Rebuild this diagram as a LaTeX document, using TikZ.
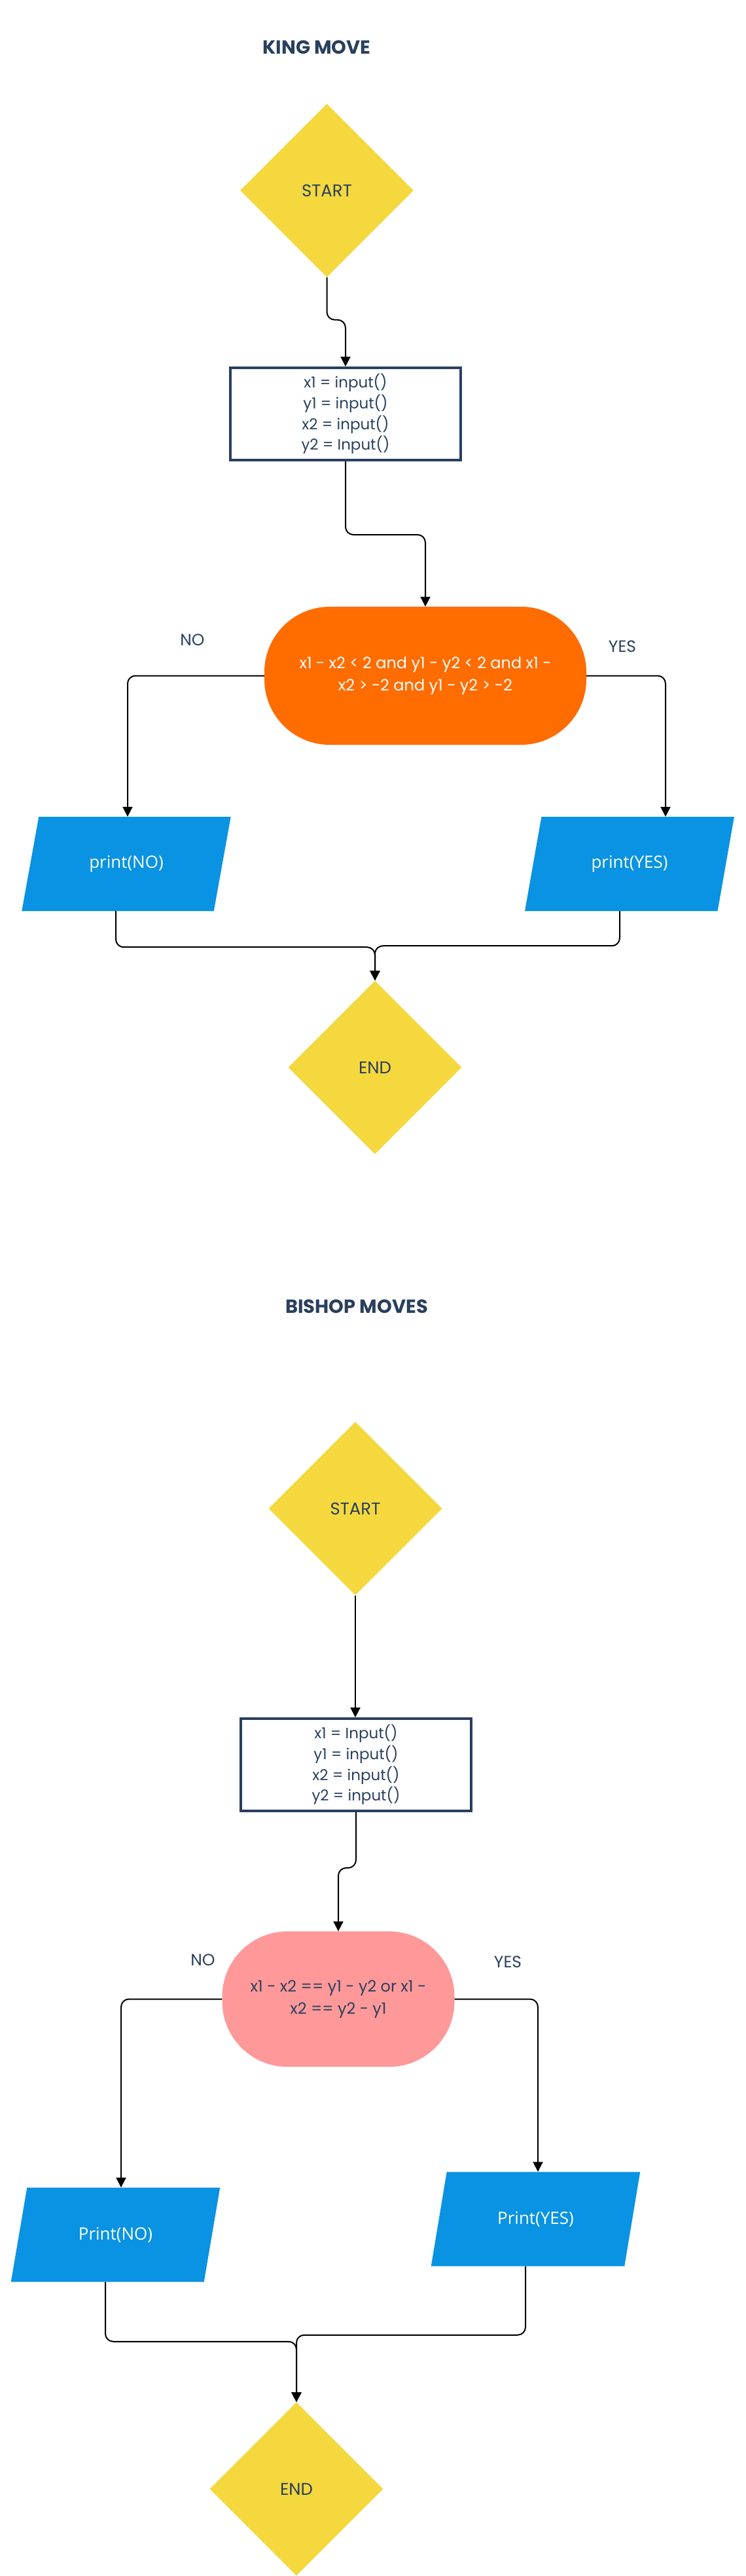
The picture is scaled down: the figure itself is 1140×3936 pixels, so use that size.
\documentclass[tikz,border=0pt]{standalone}
\usepackage{fontspec}
\setmainfont{Poppins}
\newfontfamily\printfont{Open Sans}
\usetikzlibrary{shapes.geometric}
\usetikzlibrary{arrows.meta}

\definecolor{navy}{HTML}{29405E}
\definecolor{sunyellow}{HTML}{F4D83E}
\definecolor{condorange}{HTML}{FF6C00}
\definecolor{condpink}{HTML}{FF9999}
\definecolor{printblue}{HTML}{0993E2}

\begin{document}
\begin{tikzpicture}[x=1pt,y=-1pt,
  title/.style={text=navy,font=\fontsize{29}{34}\selectfont\bfseries},
  terminal/.style={diamond,aspect=1,fill=sunyellow,inner sep=0pt,minimum width=265pt,minimum height=265pt,text=navy,font=\fontsize{26}{31}\selectfont},
  inputbox/.style={rectangle,draw=navy,line width=4pt,minimum width=352pt,minimum height=141pt,align=center,text=navy,font=\fontsize{23}{31.7}\selectfont},
  decision/.style={rectangle,rounded corners=100pt,align=center,font=\fontsize{24}{33.5}\selectfont},
  output/.style={trapezium,trapezium left angle=70,trapezium right angle=110,trapezium stretches=true,fill=printblue,minimum width=320pt,minimum height=144pt,text=white,font=\printfont\fontsize{26}{31}\selectfont},
  answer/.style={text=navy,font=\fontsize{25}{30}\selectfont},
  flow/.style={draw=black,line width=2pt,rounded corners=12pt,-{Triangle[length=15pt,width=15pt]}}
]
  \fill[white] (0,0) rectangle (1140,3936);
  \useasboundingbox (0,0) rectangle (1140,3936);

  % king move
  \node[title] (king) at (484,72) {KING MOVE};
  \node[terminal] (start1) at (499.5,291) {START};
  \node[inputbox] (input1) at (528,632.5) {x1 = input()\\y1 = input()\\x2 = input()\\y2 = Input()};
  \node[decision,fill=condorange,text=white,minimum width=492pt,minimum height=211pt] (cond1) at (650,1032.5)
    {x1 - x2 < 2 and y1 - y2 < 2 and x1 -\\x2 > -2 and y1 - y2 > -2};
  \node[answer] (nolabel1) at (294,978) {NO};
  \node[answer] (yeslabel1) at (951,988) {YES};
  \node[output] (no1) at (193,1320) {print(NO)};
  \node[output] (yes1) at (962,1320) {print(YES)};
  \node[terminal] (end1) at (573,1631) {END};

  \draw[flow] (start1.south) -- ++(0,65) -| (input1.north);
  \draw[flow] (input1.south) -- ++(0,112) -| (cond1.north);
  \draw[flow] (cond1.west) -| ([xshift=2pt]no1.north);
  \draw[flow] (cond1.east) -| ([xshift=55pt]yes1.north);
  \draw[flow] ([xshift=-16pt]no1.south) -- ++(0,55) -| (end1.north);
  \draw[flow] ([xshift=-15pt]yes1.south) -- ++(0,53) -| (end1.north);

  % bishop moves
  \node[title] (bishop) at (545,1996) {BISHOP MOVES};
  \node[terminal] (start2) at (543,2305) {START};
  \node[inputbox] (input2) at (544,2696.5) {x1 = Input()\\y1 = input()\\x2 = input()\\y2 = input()};
  \node[decision,fill=condpink,text=navy,minimum width=355pt,minimum height=207pt] (cond2) at (517,3054.5)
    {x1 - x2 == y1 - y2 or x1 -\\x2 == y2 - y1};
  \node[answer] (nolabel2) at (310,2995) {NO};
  \node[answer] (yeslabel2) at (776,2998) {YES};
  \node[output] (no2) at (176.5,3414.5) {Print(NO)};
  \node[output] (yes2) at (818.5,3390.5) {Print(YES)};
  \node[terminal] (end2) at (453,3803) {END};

  \draw[flow] (start2.south) -- (start2.south |- input2.north);
  \draw[flow] (input2.south) -- ++(0,85) -| (cond2.north);
  \draw[flow] (cond2.west) -| ([xshift=8.5pt]no2.north);
  \draw[flow] (cond2.east) -| ([xshift=3.5pt]yes2.north);
  \draw[flow] ([xshift=-15.5pt]no2.south) -- ++(0,91) -| (end2.north);
  \draw[flow] ([xshift=-15.5pt]yes2.south) -- ++(0,105) -| (end2.north);
\end{tikzpicture}
\end{document}
